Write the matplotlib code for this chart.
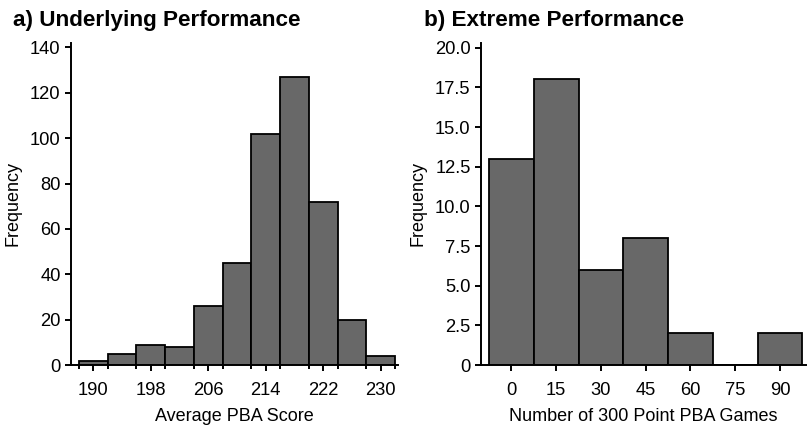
import numpy as np
import matplotlib
matplotlib.use("Agg")
import matplotlib.pyplot as plt
from matplotlib.ticker import MultipleLocator

plt.rcParams['font.family'] = ['Liberation Sans', 'DejaVu Sans']

# a) average PBA score histogram
avg_centers = [190, 194, 198, 202, 206, 210, 214, 218, 222, 226, 230]
avg_counts = [2, 5, 9, 8, 26, 45, 102, 127, 72, 20, 4]
avg_ticks = [190, 198, 206, 214, 222, 230]

# b) number of 300 point games histogram
games_centers = [0, 15, 30, 45, 60, 75, 90]
games_counts = [13, 18, 6, 8, 2, 0, 2]
games_yticks = [0, 2.5, 5.0, 7.5, 10.0, 12.5, 15.0, 17.5, 20.0]
games_ylabels = ['0', '2.5', '5.0', '7.5', '10.0', '12.5', '15.0', '17.5', '20.0']

bar_color = '#686868'

fig = plt.figure(figsize=(8.07, 4.29), dpi=100)
ax1 = fig.add_axes([0.088, 0.149, 0.405, 0.751])
ax2 = fig.add_axes([0.596, 0.149, 0.403, 0.751])

def style(ax):
    for s in ['top', 'right']:
        ax.spines[s].set_visible(False)
    for s in ['left', 'bottom']:
        ax.spines[s].set_linewidth(1.4)
    ax.tick_params(axis='both', which='major', direction='out', length=4, width=1.4,
                   labelsize=13.2, colors='black')
    ax.tick_params(axis='x', which='major', pad=8)
    ax.tick_params(axis='x', which='minor', direction='out', length=3, width=1.4)

ax1.bar(avg_centers, avg_counts, width=4, color=bar_color, edgecolor='black', linewidth=1.3)
ax1.set_xlim(186.9, 232.4)
ax1.set_ylim(0, 142)
ax1.set_xticks(avg_ticks)
ax1.xaxis.set_minor_locator(MultipleLocator(4))
ax1.set_yticks(range(0, 141, 20))
style(ax1)
ax1.set_xlabel('Average PBA Score', fontsize=13, labelpad=7)
ax1.set_ylabel('Frequency', fontsize=13, labelpad=6)

ax2.bar(games_centers, games_counts, width=15, color=bar_color, edgecolor='black', linewidth=1.3)
ax2.set_xlim(-10.2, 98.8)
ax2.set_ylim(0, 20.3)
ax2.set_xticks(games_centers)
ax2.set_yticks(games_yticks)
ax2.set_yticklabels(games_ylabels)
style(ax2)
ax2.set_xlabel('Number of 300 Point PBA Games', fontsize=13, labelpad=7)
ax2.set_ylabel('Frequency', fontsize=13, labelpad=6)

fig.text(0.016, 0.94, 'a) Underlying Performance', fontsize=16.2, fontweight='bold')
fig.text(0.525, 0.94, 'b) Extreme Performance', fontsize=16.2, fontweight='bold')

fig.savefig('out.png', dpi=100)
